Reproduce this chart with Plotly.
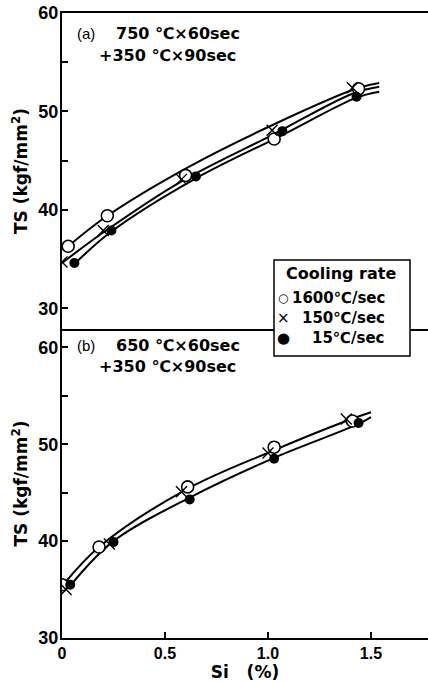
import plotly.graph_objects as go

# ---------------- data ----------------
# Panel (a): 750C x 60sec + 350C x 90sec
si_a_open = [0.03, 0.22, 0.60, 1.03, 1.44]
ts_a_open = [36.3, 39.4, 43.5, 47.2, 52.3]
si_a_cross = [0.00, 0.20, 0.58, 1.02, 1.41]
ts_a_cross = [34.7, 37.9, 43.1, 48.1, 52.4]
si_a_fill = [0.06, 0.24, 0.65, 1.07, 1.43]
ts_a_fill = [34.6, 37.9, 43.4, 48.0, 51.5]

fit_a_upper_x = [0.03, 0.22, 0.60, 1.03, 1.44, 1.54]
fit_a_upper_y = [36.3, 39.4, 44.2, 48.7, 52.4, 52.9]
fit_a_mid_x = [0.00, 0.20, 0.58, 1.02, 1.41, 1.54]
fit_a_mid_y = [34.6, 37.7, 42.9, 47.6, 51.8, 52.5]
fit_a_low_x = [0.06, 0.24, 0.65, 1.07, 1.43, 1.54]
fit_a_low_y = [34.5, 37.8, 43.2, 47.6, 51.4, 52.0]

# Panel (b): 650C x 60sec + 350C x 90sec
si_b_open = [0.00, 0.18, 0.61, 1.03, 1.41]
ts_b_open = [35.5, 39.4, 45.6, 49.7, 52.4]
si_b_cross = [0.02, 0.23, 0.58, 1.00, 1.38]
ts_b_cross = [35.0, 39.7, 45.1, 49.1, 52.6]
si_b_fill = [0.04, 0.25, 0.62, 1.03, 1.44]
ts_b_fill = [35.5, 39.9, 44.3, 48.5, 52.2]

fit_b_upper_x = [0.01, 0.18, 0.60, 1.02, 1.38, 1.50]
fit_b_upper_y = [35.6, 39.4, 45.3, 49.3, 52.4, 53.3]
fit_b_low_x = [0.04, 0.25, 0.62, 1.03, 1.44, 1.50]
fit_b_low_y = [35.4, 40.0, 44.5, 48.6, 52.1, 52.8]

legend_title = "Cooling rate"
legend_symbols = ["○", "×", "●"]
legend_labels = ["1600℃/sec", "150℃/sec", "15℃/sec"]
y_ticks = [30, 40, 50, 60]
y_ticktext = ["30", "40", "50", "60"]
y_minor_ticks = [45, 55]
x_ticks = [0, 0.5, 1.0, 1.5]
x_ticktext = ["0", "0.5", "1.0", "1.5"]

BLACK = "#000000"
NARROW = "Liberation Sans Narrow, Liberation Sans, Arial"
WIDE = "DejaVu Sans"

# plot-area geometry (px) used to place paper-referenced items
L, R, T, B = 62, 428, 13, 638
def px(xp):
    return (xp - L) / (R - L)
def py(yp):
    return (B - yp) / (B - T)

fig = go.Figure()

def add_curve(x, y, xa, ya):
    fig.add_trace(go.Scatter(x=x, y=y, mode="lines", line=dict(color=BLACK, width=2, shape="spline"),
                             xaxis=xa, yaxis=ya, showlegend=False, hoverinfo="skip"))

add_curve(fit_a_upper_x, fit_a_upper_y, "x", "y")
add_curve(fit_a_mid_x, fit_a_mid_y, "x", "y")
add_curve(fit_a_low_x, fit_a_low_y, "x", "y")
add_curve(fit_b_upper_x, fit_b_upper_y, "x2", "y2")
add_curve(fit_b_low_x, fit_b_low_y, "x2", "y2")

open_m = dict(symbol="circle", size=12, color="white", line=dict(width=1.6, color=BLACK))
cross_m = dict(symbol="x-thin-open", size=11, color=BLACK, line=dict(width=1.4, color=BLACK))
fill_m = dict(symbol="circle", size=10, color=BLACK, line=dict(width=0))

for xs, ys, m, nm, xa, ya in [
    (si_a_open, ts_a_open, open_m, legend_labels[0], "x", "y"),
    (si_a_cross, ts_a_cross, cross_m, legend_labels[1], "x", "y"),
    (si_a_fill, ts_a_fill, fill_m, legend_labels[2], "x", "y"),
    (si_b_open, ts_b_open, open_m, legend_labels[0], "x2", "y2"),
    (si_b_cross, ts_b_cross, cross_m, legend_labels[1], "x2", "y2"),
    (si_b_fill, ts_b_fill, fill_m, legend_labels[2], "x2", "y2"),
]:
    fig.add_trace(go.Scatter(x=xs, y=ys, mode="markers", marker=m, name=nm,
                             xaxis=xa, yaxis=ya, showlegend=False))

ytickfont = dict(family=NARROW, size=18, color=BLACK, weight="bold")
xtickfont = dict(family=NARROW, size=16, color=BLACK, weight="bold")
titlefont = dict(family=WIDE, size=17, color=BLACK, weight="bold")
split = py(329)

axis_common = dict(showline=True, linecolor=BLACK, linewidth=2, showgrid=False, zeroline=False,
                   ticks="inside", ticklen=6, tickwidth=1.5, tickcolor=BLACK)
minor_y = dict(tickmode="array", tickvals=y_minor_ticks, ticks="inside", ticklen=6,
               tickwidth=1.5, tickcolor=BLACK, showgrid=False)

fig.update_layout(
    width=428, height=682,
    margin=dict(l=L, r=0, t=T, b=682 - B),
    paper_bgcolor="white", plot_bgcolor="white",
    showlegend=False,
    xaxis=dict(axis_common, domain=[0, 1], range=[0, 1.777], anchor="y", mirror=True,
               ticks="", showticklabels=False, tickmode="array", tickvals=[]),
    yaxis=dict(axis_common, domain=[split, 1], range=[27.9, 60], anchor="x",
               tickvals=y_ticks, ticktext=y_ticktext, tickfont=ytickfont, ticklabelstandoff=-2,
               minor=minor_y,
               title=dict(text="TS (kgf/mm<sup>2</sup>)", font=titlefont, standoff=6)),
    xaxis2=dict(axis_common, domain=[0, 1], range=[0, 1.777], anchor="y2",
                tickvals=x_ticks, ticktext=x_ticktext, tickfont=xtickfont,
                title=dict(text="Si\u00a0\u00a0\u00a0(%)", font=titlefont, standoff=4)),
    yaxis2=dict(axis_common, domain=[0, split], range=[30, 61.9], anchor="x2",
                tickvals=y_ticks, ticktext=y_ticktext, tickfont=ytickfont, ticklabelstandoff=-2,
                minor=minor_y,
                title=dict(text="TS (kgf/mm<sup>2</sup>)", font=titlefont, standoff=6)),
)

# legend box (straddles both panels, hides the divider line)
fig.add_shape(type="rect", xref="paper", yref="paper", x0=px(274), x1=px(410), y0=py(356), y1=py(260),
              fillcolor="white", line=dict(color=BLACK, width=1.5), layer="above")
fig.add_annotation(text=legend_title, xref="paper", yref="paper", x=px(341), y=py(273),
                   xanchor="center", yanchor="middle", showarrow=False,
                   font=dict(family=WIDE, size=16, color=BLACK, weight="bold"))
item_y = [298, 318, 338]
sym_sizes = [12, 15, 15]
for sym, lab, yy, ss in zip(legend_symbols, legend_labels, item_y, sym_sizes):
    fig.add_annotation(text=sym, xref="paper", yref="paper", x=px(283), y=py(yy),
                       xanchor="center", yanchor="middle", showarrow=False,
                       font=dict(family=WIDE, size=ss, color=BLACK))
    fig.add_annotation(text=lab, xref="paper", yref="paper", x=px(387), y=py(yy),
                       xanchor="right", yanchor="middle", showarrow=False,
                       font=dict(family=WIDE, size=15, color=BLACK, weight="bold"))

# condition labels
cond_font = dict(family=WIDE, size=16, color=BLACK, weight="bold")
tag_font = dict(family="Liberation Sans", size=15, color=BLACK)
for tag, l1, l2, y1, y2 in [("(a)", "750 ℃×60sec", "+350 ℃×90sec", 33, 55),
                            ("(b)", "650 ℃×60sec", "+350 ℃×90sec", 346, 366)]:
    fig.add_annotation(text=tag, xref="paper", yref="paper", x=px(75), y=py(y1),
                       xanchor="left", yanchor="middle", showarrow=False, font=tag_font)
    fig.add_annotation(text=l1, xref="paper", yref="paper", x=px(114), y=py(y1),
                       xanchor="left", yanchor="middle", showarrow=False, font=cond_font)
    fig.add_annotation(text=l2, xref="paper", yref="paper", x=px(97), y=py(y2),
                       xanchor="left", yanchor="middle", showarrow=False, font=cond_font)

fig.write_html("out.html")
